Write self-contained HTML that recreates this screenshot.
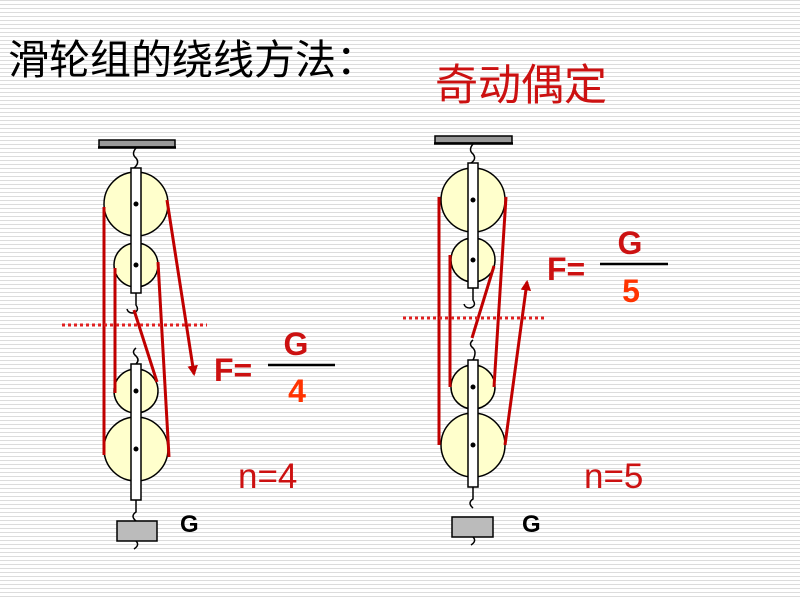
<!DOCTYPE html>
<html><head><meta charset="utf-8"><style>
html,body{margin:0;padding:0;width:800px;height:600px;overflow:hidden;background:#fff}
svg{display:block}
</style></head><body>
<svg width="800" height="600" xmlns="http://www.w3.org/2000/svg" font-family="Liberation Sans, Noto Sans CJK SC, sans-serif">
<defs>
<pattern id="bg" width="800" height="4" patternUnits="userSpaceOnUse"><rect width="800" height="1" y="0" fill="#dcdcdc"/></pattern>
<marker id="ar" viewBox="0 0 10 10" refX="8" refY="5" markerWidth="3.5" markerHeight="3.5" orient="auto"><path d="M0,0L10,5L0,10z" fill="#c00000"/></marker>
</defs>
<rect width="800" height="600" fill="url(#bg)"/>
<text x="8" y="74" font-size="41" fill="#000" font-family="Noto Sans CJK SC, sans-serif">滑轮组的绕线方法：</text>
<text x="435" y="100" font-size="43" fill="#cc1111" font-family="Noto Sans CJK SC, sans-serif">奇动偶定</text>

<!-- LEFT -->
<g stroke="#000" stroke-width="1.5">
<rect x="99" y="140" width="76" height="7" fill="#999"/>
<line x1="98" y1="147.5" x2="176" y2="147.5" stroke-width="2.5"/>
<path d="M136,148 q-5,6 0,10 q4,5 -2,10" fill="none"/>
<circle cx="136" cy="204" r="32" fill="#ffffcc"/>
<circle cx="136" cy="265" r="22" fill="#ffffcc"/>
<rect x="131" y="168" width="10" height="125" fill="#fff"/>
<path d="M136,293 v12 q4,6 -3,8 q-5,0 -6,-4" fill="none"/>
<path d="M136,348 q-5,4 0,8 q4,4 0,8" fill="none"/>
<circle cx="136" cy="391" r="22" fill="#ffffcc"/>
<circle cx="136" cy="449" r="32" fill="#ffffcc"/>
<rect x="131" y="364" width="10" height="136" fill="#fff"/>
<path d="M136,500 v12 q-6,4 0,9 M136,541 q4,4 -2,8" fill="none"/>
<rect x="117" y="521" width="40" height="20" fill="#bbb"/>
</g>
<g fill="#000"><circle cx="136" cy="204" r="2.5"/><circle cx="136" cy="265" r="2.5"/><circle cx="136" cy="391" r="2.5"/><circle cx="136" cy="449" r="2.5"/></g>
<g stroke="#c00000" stroke-width="3" fill="none">
<line x1="104" y1="207" x2="104" y2="455"/>
<line x1="115" y1="268" x2="115" y2="393"/>
<line x1="158" y1="262" x2="169" y2="457"/>
<line x1="134" y1="310" x2="157" y2="382"/>
<line x1="167" y1="200" x2="194" y2="374" marker-end="url(#ar)"/>
</g>
<line x1="62" y1="325" x2="207" y2="325" stroke="#e02020" stroke-width="3" stroke-dasharray="3,3"/>
<text x="214" y="381" font-size="32" font-weight="bold" fill="#cc1111">F=</text>
<line x1="268" y1="365" x2="335" y2="365" stroke="#000" stroke-width="2.5"/>
<text x="296" y="355" font-size="32" font-weight="bold" fill="#cc1111" text-anchor="middle">G</text>
<text x="297" y="402" font-size="32" font-weight="bold" fill="#ff3300" text-anchor="middle">4</text>
<text x="238" y="488" font-size="35" fill="#cc1111">n=4</text>
<text x="180" y="532" font-size="24" font-weight="bold" fill="#000">G</text>

<!-- RIGHT -->
<g stroke="#000" stroke-width="1.5">
<rect x="435" y="136" width="77" height="7" fill="#999"/>
<line x1="434" y1="143.5" x2="513" y2="143.5" stroke-width="2.5"/>
<path d="M473,144 q-5,6 0,10 q4,5 -2,9" fill="none"/>
<circle cx="473" cy="200" r="32" fill="#ffffcc"/>
<circle cx="473" cy="260" r="22" fill="#ffffcc"/>
<rect x="468" y="163" width="10" height="125" fill="#fff"/>
<path d="M473,288 v12 q4,6 -3,8 q-5,0 -6,-4" fill="none"/>
<path d="M473,340 q-5,4 0,8 q4,4 0,12" fill="none"/>
<circle cx="473" cy="387" r="22" fill="#ffffcc"/>
<circle cx="473" cy="445" r="32" fill="#ffffcc"/>
<rect x="468" y="360" width="10" height="127" fill="#fff"/>
<path d="M473,487 v12 q-6,4 0,9 M473,537 q4,4 -2,8" fill="none"/>
<rect x="452" y="517" width="41" height="20" fill="#bbb"/>
</g>
<g fill="#000"><circle cx="473" cy="200" r="2.5"/><circle cx="473" cy="260" r="2.5"/><circle cx="473" cy="387" r="2.5"/><circle cx="473" cy="445" r="2.5"/></g>
<g stroke="#c00000" stroke-width="3" fill="none">
<line x1="439" y1="197" x2="439" y2="445"/>
<line x1="450" y1="255" x2="450" y2="387"/>
<line x1="506" y1="197" x2="494" y2="387"/>
<line x1="494" y1="266" x2="472" y2="338"/>
<line x1="505" y1="445" x2="527" y2="282" marker-end="url(#ar)"/>
</g>
<line x1="403" y1="318" x2="547" y2="318" stroke="#e02020" stroke-width="3" stroke-dasharray="3,3"/>
<text x="547" y="280" font-size="32" font-weight="bold" fill="#cc1111">F=</text>
<line x1="600" y1="264" x2="668" y2="264" stroke="#000" stroke-width="2.5"/>
<text x="630" y="254" font-size="32" font-weight="bold" fill="#cc1111" text-anchor="middle">G</text>
<text x="631" y="302" font-size="32" font-weight="bold" fill="#ff3300" text-anchor="middle">5</text>
<text x="584" y="488" font-size="35" fill="#cc1111">n=5</text>
<text x="522" y="532" font-size="24" font-weight="bold" fill="#000">G</text>
</svg>
</body></html>
